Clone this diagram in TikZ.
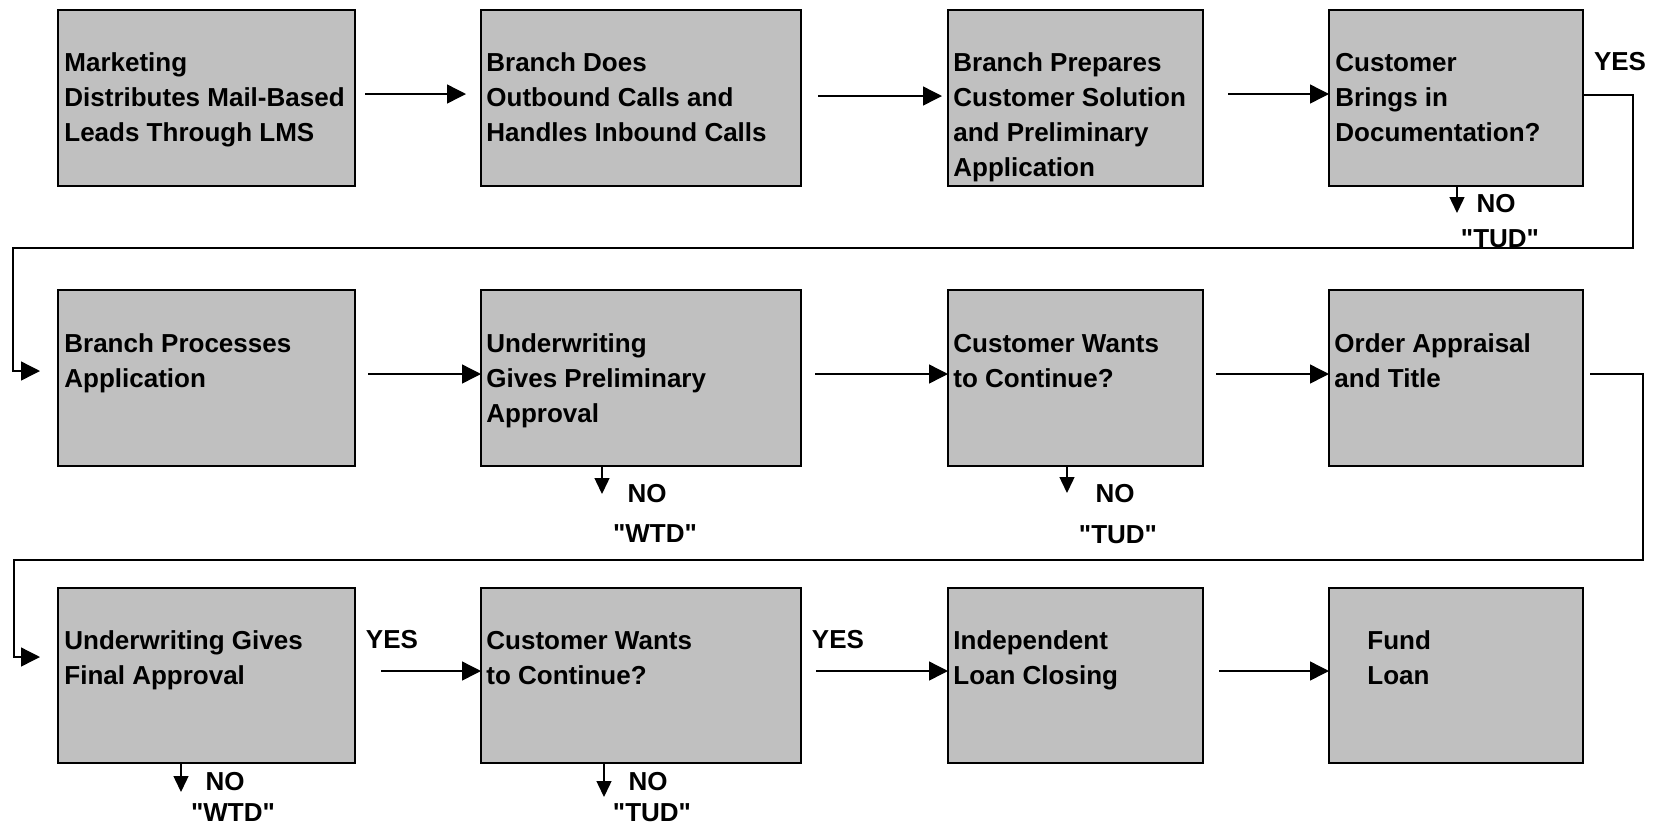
\documentclass[tikz,border=0pt]{standalone}
\usepackage{fontspec}
\setmainfont{Liberation Sans}[Ligatures=TeXOff]
\usetikzlibrary{arrows.meta,calc}
\definecolor{boxgray}{RGB}{192,192,192}
\newcommand{\mytab}[1]{\begin{tabular}[t]{@{}l@{}}#1\end{tabular}}
\begin{document}
\begin{tikzpicture}[x=0.5pt,y=-0.5pt,
  pbox/.style={draw=black, line width=1pt, fill=boxgray, inner sep=0pt, outer sep=0pt, anchor=north west, minimum height=88pt},
  wA/.style={minimum width=148.5pt},
  wB/.style={minimum width=160pt},
  wC/.style={minimum width=127.5pt},
  wD/.style={minimum width=127pt},
  ptext/.style={anchor=base west, inner sep=0pt, font=\fontsize{13}{17.5}\selectfont\bfseries},
  lbl/.style={anchor=center, inner sep=0pt, font=\fontsize{13}{17.5}\selectfont\bfseries},
  arr/.style={line width=0.7pt, -{Triangle[length=9.5pt,width=9.5pt]}},
  arrd/.style={line width=0.7pt, -{Triangle[length=8pt,width=7.5pt]}}
]
\useasboundingbox (0,0) rectangle (1656,826);

% Row 1
\node[pbox,wA] (b1) at (58,10) {};
\node[pbox,wB] (b2) at (481,10) {};
\node[pbox,wC] (b3) at (948,10) {};
\node[pbox,wD] (b4) at (1329,10) {};
% Row 2
\node[pbox,wA] (b5) at (58,290) {};
\node[pbox,wB] (b6) at (481,290) {};
\node[pbox,wC] (b7) at (948,290) {};
\node[pbox,wD] (b8) at (1329,290) {};
% Row 3
\node[pbox,wA,minimum height=87.5pt] (b9) at (58,588) {};
\node[pbox,wB,minimum height=87.5pt] (b10) at (481,588) {};
\node[pbox,wC,minimum height=87.5pt] (b11) at (948,588) {};
\node[pbox,wD,minimum height=87.5pt] (b12) at (1329,588) {};

% Texts
\node[ptext] (t1) at (64,71) {\mytab{Marketing\\Distributes Mail-Based\\Leads Through LMS}};
\node[ptext] (t2) at (486,71) {\mytab{Branch Does\\Outbound Calls and\\Handles Inbound Calls}};
\node[ptext] (t3) at (953,71) {\mytab{Branch Prepares\\Customer Solution\\and Preliminary\\Application}};
\node[ptext] (t4) at (1335,71) {\mytab{Customer\\Brings in\\Documentation?}};
\node[ptext] (t5) at (64,352) {\mytab{Branch Processes\\Application}};
\node[ptext] (t6) at (486,352) {\mytab{Underwriting\\Gives Preliminary\\Approval}};
\node[ptext] (t7) at (953,352) {\mytab{Customer Wants\\to Continue?}};
\node[ptext] (t8) at (1334,352) {\mytab{Order Appraisal\\and Title}};
\node[ptext] (t9) at (64,649) {\mytab{Underwriting Gives\\Final Approval}};
\node[ptext] (t10) at (486,649) {\mytab{Customer Wants\\to Continue?}};
\node[ptext] (t11) at (953,649) {\mytab{Independent\\Loan Closing}};
\node[ptext] (t12) at (1367,649) {\mytab{Fund\\Loan}};

% Labels
\node[lbl] (yes1) at (1620,62) {YES};
\node[lbl] (no1) at (1496,204) {NO};
\node[lbl] (tud1) at (1500,239) {"TUD"};
\node[lbl] (no2) at (647,494) {NO};
\node[lbl] (wtd1) at (655,534) {"WTD"};
\node[lbl] (no3) at (1115,494) {NO};
\node[lbl] (tud2) at (1118,535) {"TUD"};
\node[lbl] (yes2) at (392,640) {YES};
\node[lbl] (yes3) at (838,640) {YES};
\node[lbl] (no4) at (225,782) {NO};
\node[lbl] (wtd2) at (233,813) {"WTD"};
\node[lbl] (no5) at (648,782) {NO};
\node[lbl] (tud3) at (652,813) {"TUD"};

% Row 1 arrows
\draw[arr] ([xshift=5pt,yshift=2pt]b1.east) -- ([xshift=-7.5pt,yshift=2pt]b2.west);
\draw[arr] ([xshift=8.5pt,yshift=1pt]b2.east) -- ([xshift=-3pt,yshift=1pt]b3.west);
\draw[arr] ([xshift=12.5pt,yshift=2pt]b3.east) -- ([yshift=2pt]b4.west);
% Row 2 arrows
\draw[arr] ([xshift=6.5pt,yshift=2pt]b5.east) -- ([yshift=2pt]b6.west);
\draw[arr] ([xshift=7pt,yshift=2pt]b6.east) -- ([yshift=2pt]b7.west);
\draw[arr] ([xshift=6.5pt,yshift=2pt]b7.east) -- ([yshift=2pt]b8.west);
% Row 3 arrows
\draw[arr] ([xshift=13pt,yshift=2.25pt]b9.east) -- ([yshift=2.25pt]b10.west);
\draw[arr] ([xshift=7.5pt,yshift=2.25pt]b10.east) -- ([yshift=2.25pt]b11.west);
\draw[arr] ([xshift=8pt,yshift=2.25pt]b11.east) -- ([yshift=2.25pt]b12.west);

% Loops
\coordinate (r1a) at (1633,248);
\coordinate (r1b) at (13,248);
\draw[arr] ([yshift=1.5pt]b4.east) -| (r1a) -- (r1b) |- ([xshift=-9pt,yshift=3.5pt]b5.west);
\coordinate (r2a) at (1643,560);
\coordinate (r2b) at (14,560);
\draw[arr] ([xshift=3.5pt,yshift=2pt]b8.east) -| (r2a) -- (r2b) |- ([xshift=-9pt,yshift=9.25pt]b9.west);

% NO arrows
\draw[arrd] ([xshift=0.5pt]b4.south) -- ++(0,27);
\draw[arrd] ([xshift=-19.5pt]b6.south) -- ++(0,28);
\draw[arrd] ([xshift=-4.25pt]b7.south) -- ++(0,27);
\draw[arrd] ([xshift=-12.75pt]b9.south) -- ++(0,29);
\draw[arrd] ([xshift=-18.5pt]b10.south) -- ++(0,34);
\end{tikzpicture}
\end{document}
